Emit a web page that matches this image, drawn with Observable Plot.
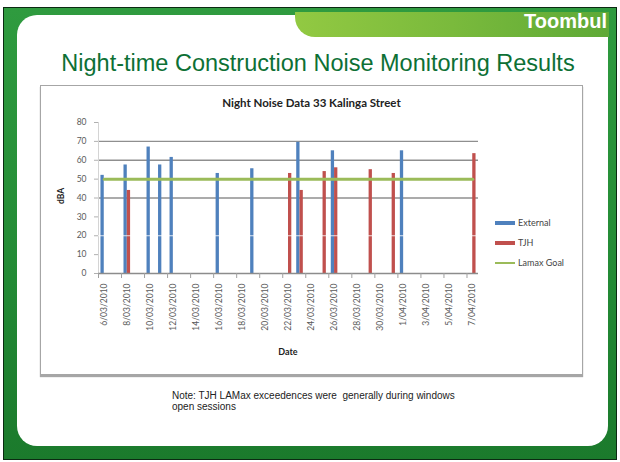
<!DOCTYPE html>
<html>
<head>
<meta charset="utf-8">
<script src="https://cdn.jsdelivr.net/npm/d3@7"></script>
<script src="https://cdn.jsdelivr.net/npm/@observablehq/plot@0.6"></script>
<style>
  html, body { margin: 0; padding: 0; background: #fff; }
  #page { position: relative; width: 620px; height: 462px; overflow: hidden; background: #fff; font-family: "Liberation Sans", Arial, sans-serif; }
  .abs { position: absolute; }
  #frame { left: 3px; top: 7px; width: 612px; height: 451px; border: 1.5px solid #0b2a12;
           background: linear-gradient(180deg, #2f9b3f 0%, #238a35 60%, #1b7a2c 100%); }
  #panel { left: 17px; top: 15px; width: 591px; height: 431px; background: #fff; border-radius: 20px; }
  #tab { left: 295px; top: 12px; width: 314px; height: 25px; border-bottom-left-radius: 20px;
         background: linear-gradient(90deg, #92c942 0%, #7aba3c 50%, #5ea936 100%); }
  #tabText { right: 13px; top: 10px; color: #fff; font-weight: bold; font-size: 20px; }
  #title { left: 0; width: 636px; top: 50px; text-align: center; color: #0d7035; font-size: 23.5px; }
  #box { left: 40px; top: 85px; width: 541px; height: 288px; border: 1px solid #a6a6a6; background: #fff;
         box-shadow: 0 2px 1px rgba(0,0,0,0.35); }
  #chart { left: 40px; top: 85px; }
  #chartTitle { left: 40px; width: 543px; top: 96px; text-align: center; font-family: Lato, sans-serif; font-weight: bold; font-size: 11.5px; color: #222; }
  #ylab { left: 53px; top: 191px; transform: rotate(-90deg); font-family: Lato, sans-serif; font-weight: bold; font-size: 8.5px; color: #222; }
  #xlab { left: 98px; width: 380px; top: 346px; text-align: center; font-family: Lato, sans-serif; font-weight: bold; font-size: 9px; color: #222; }
  .leg { left: 495px; font-family: Lato, sans-serif; font-size: 9px; color: #444; display: flex; align-items: center; }
  .sw { display: inline-block; width: 20px; margin-right: 3px; }
  #note { left: 172px; top: 391px; font-size: 10px; line-height: 10.5px; color: #222; }
</style>
</head>
<body>
<div id="page">
  <div id="frame" class="abs"></div>
  <div id="panel" class="abs"></div>
  <div id="tab" class="abs"></div>
  <div id="tabText" class="abs">Toombul</div>
  <div id="title" class="abs">Night-time Construction Noise Monitoring Results</div>
  <div id="box" class="abs"></div>
  <div id="chart" class="abs"></div>
  <div id="chartTitle" class="abs">Night Noise Data 33 Kalinga Street</div>
  <div id="ylab" class="abs">dBA</div>
  <div id="xlab" class="abs">Date</div>
  <div id="legend"></div>
  <div id="note" class="abs">Note: TJH LAMax exceedences were&nbsp; generally during windows<br>open sessions</div>
</div>
<script>
// ---- data ----
const dates = [
  "6/03/2010","7/03/2010","8/03/2010","9/03/2010","10/03/2010","11/03/2010","12/03/2010",
  "13/03/2010","14/03/2010","15/03/2010","16/03/2010","17/03/2010","18/03/2010","19/03/2010",
  "20/03/2010","21/03/2010","22/03/2010","23/03/2010","24/03/2010","25/03/2010","26/03/2010",
  "27/03/2010","28/03/2010","29/03/2010","30/03/2010","31/03/2010","1/04/2010","2/04/2010",
  "3/04/2010","4/04/2010","5/04/2010","6/04/2010","7/04/2010"
];
const tickLabels = [
  "6/03/2010","8/03/2010","10/03/2010","12/03/2010","14/03/2010","16/03/2010","18/03/2010",
  "20/03/2010","22/03/2010","24/03/2010","26/03/2010","28/03/2010","30/03/2010","1/04/2010",
  "3/04/2010","5/04/2010","7/04/2010"
];
const externalDates = ["6/03/2010","8/03/2010","10/03/2010","11/03/2010","12/03/2010","16/03/2010","19/03/2010","23/03/2010","26/03/2010","1/04/2010"];
const externalValues = [52, 57.5, 67, 57.5, 61.5, 53, 55.5, 69.5, 65, 65];
const tjhDates = ["8/03/2010","22/03/2010","23/03/2010","25/03/2010","26/03/2010","29/03/2010","31/03/2010","7/04/2010"];
const tjhValues = [44, 53, 44, 54, 56, 55, 53, 63.5];
const lamaxGoal = 50;
const yTicks = [0, 10, 20, 30, 40, 50, 60, 70, 80];
const gridValues = [40, 60, 70];
const seriesNames = ["External", "TJH", "Lamax Goal"];
const seriesColors = ["#4f81bd", "#c0504d", "#9bbb59"];

// ---- build ----
const external = externalDates.map((d, i) => ({date: d, value: externalValues[i]}));
const tjh = tjhDates.map((d, i) => ({date: d, value: tjhValues[i]}));
const goal = dates.map(d => ({date: d, value: lamaxGoal}));

const W = 543, H = 290, mL = 58, mR = 105, mT = 37, mB = 102;
const bw = (W - mL - mR) / dates.length;
const barW = 3.3;

const chart = Plot.plot({
  width: W, height: H,
  marginLeft: mL, marginRight: mR, marginTop: mT, marginBottom: mB,
  style: {fontFamily: "Lato, sans-serif", background: "transparent"},
  x: {type: "band", domain: dates, padding: 0, round: false},
  y: {domain: [0, 80]},
  marks: [
    Plot.ruleY(gridValues, {stroke: "#8f8f8f", strokeWidth: 1.3}),
    Plot.ruleX([dates[0]], {dx: -bw / 2, stroke: "#d4d4d4", strokeWidth: 1}),
    Plot.axisY({ticks: yTicks, tickSize: 4, tickPadding: 8, label: null, fontSize: 8.5,
                fill: "#5a5a5a", stroke: "#b0b0b0"}),
    Plot.barY(external, {x: "date", y: "value", fill: seriesColors[0],
                         insetLeft: bw / 2 - barW, insetRight: bw / 2}),
    Plot.barY(tjh, {x: "date", y: "value", fill: seriesColors[1],
                    insetLeft: bw / 2, insetRight: bw / 2 - barW}),
    Plot.ruleY([20], {stroke: "#ffffff", strokeWidth: 1, strokeOpacity: 0.8}),
    Plot.lineY(goal, {x: "date", y: "value", stroke: seriesColors[2], strokeWidth: 3}),
    Plot.ruleY([0], {stroke: "#8c8c8c", strokeWidth: 1.3}),
    Plot.ruleX(tickLabels, {dx: -bw / 2, y1: 0, y2: 0, insetBottom: -5, stroke: "#a0a0a0"}),
    Plot.axisX({ticks: tickLabels, tickSize: 0, tickPadding: 10, tickRotate: -90, label: null,
                fontSize: 8.5, fill: "#5a5a5a"})
  ]
});
document.getElementById("chart").appendChild(chart);

// legend
const legend = document.getElementById("legend");
const legTops = [217, 237, 257];
seriesNames.forEach((name, i) => {
  const row = document.createElement("div");
  row.className = "abs leg";
  row.style.top = legTops[i] + "px";
  const sw = document.createElement("span");
  sw.className = "sw";
  sw.style.height = i < 2 ? "4px" : "2px";
  sw.style.background = seriesColors[i];
  row.appendChild(sw);
  row.appendChild(document.createTextNode(name));
  legend.appendChild(row);
});
</script>
</body>
</html>
